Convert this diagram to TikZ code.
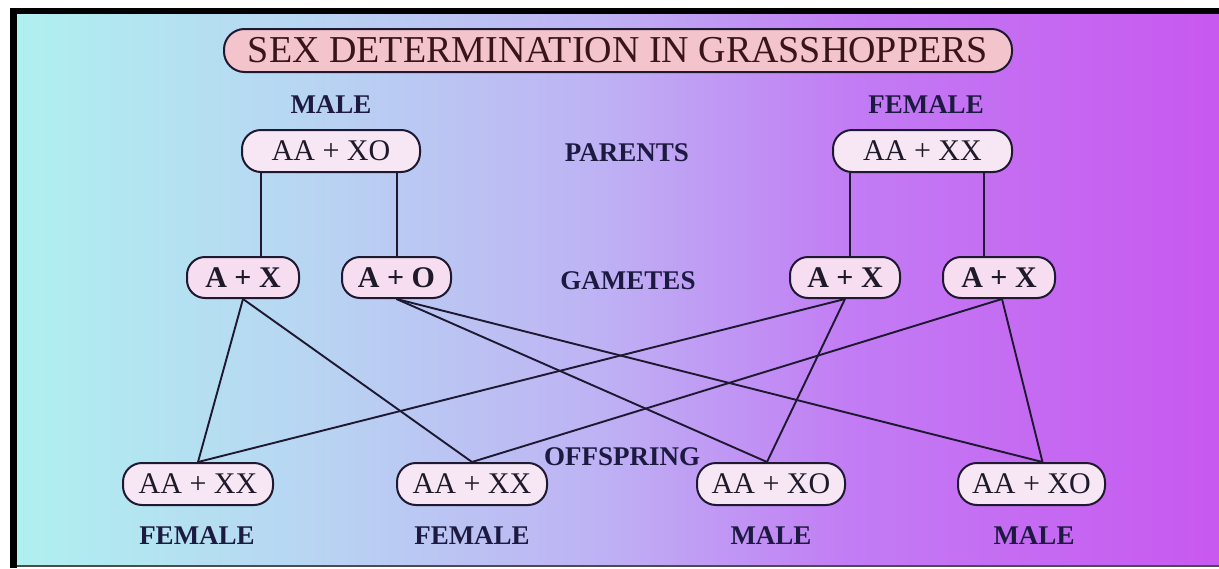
\documentclass[tikz,border=0pt]{standalone}
\usepackage{fontspec}
\setmainfont{Liberation Serif}
\usetikzlibrary{calc}

\definecolor{bgA}{HTML}{AFF0F0}
\definecolor{bgB}{HTML}{B8D6F2}
\definecolor{bgC}{HTML}{BEB2F4}
\definecolor{bgD}{HTML}{C27CF4}
\definecolor{bgE}{HTML}{C858F0}
\definecolor{titlepink}{HTML}{F4C4CC}
\definecolor{titleink}{HTML}{3A1518}
\definecolor{pale}{HTML}{F7E6F3}
\definecolor{palegam}{HTML}{F6DEF0}
\definecolor{edge}{HTML}{1E1830}
\definecolor{ink}{HTML}{1E1A2A}
\definecolor{navy}{HTML}{1C1A40}

% left-to-right wash: cyan -> lavender -> violet
\pgfdeclarehorizontalshading{skyplum}{100bp}{color(0bp)=(bgA); color(25bp)=(bgA); color(36.8bp)=(bgB); color(49.25bp)=(bgC); color(59.65bp)=(bgD); color(75bp)=(bgE); color(100bp)=(bgE)}

\begin{document}
\begin{tikzpicture}[x=1pt,y=-1pt,
  banner/.style={draw=edge, line width=2pt, fill=titlepink, rounded corners=20.5pt,
    minimum width=788pt, minimum height=43pt, inner sep=0pt, text=titleink,
    font=\fontsize{38}{40}\selectfont},
  geno/.style={draw=edge, line width=2pt, fill=pale, rounded corners=19pt,
    minimum height=42pt, inner sep=0pt, text=ink, font=\fontsize{30}{32}\selectfont},
  gam/.style={geno, fill=palegam, minimum height=41pt, rounded corners=18pt,
    font=\bfseries\fontsize{30}{32}\selectfont},
  tag/.style={inner sep=0pt, text=navy, font=\bfseries\fontsize{27}{29}\selectfont},
  link/.style={draw=edge, line width=1.9pt}]

% frame and background
\useasboundingbox (0,0) rectangle (1219,568);
\fill[white] (0,0) rectangle (1219,568);
\shade[shading=skyplum] (17,14) rectangle (1219,565);
\fill[black] (10,8) rectangle (1219,14);
\fill[black] (10,8) rectangle (17,568);
\fill[black!70] (17,565) rectangle (1219,567);

% title
\node[banner] (title) at (618,50.5) {SEX DETERMINATION IN GRASSHOPPERS};

% parents
\node[tag] (lm) at (331,105) {MALE};
\node[tag] (lf) at (926,105) {FEMALE};
\node[geno, minimum width=178pt] (p1) at (331,151) {AA + XO};
\node[geno, minimum width=179pt] (p2) at (922.5,151) {AA + XX};
\node[tag] (lp) at (627,153) {PARENTS};

% gametes
\node[gam, minimum width=112pt] (g1) at (243,277.5) {A + X};
\node[gam, minimum width=109pt] (g2) at (396.5,277.5) {A + O};
\node[gam, minimum width=110pt] (g3) at (845,277.5) {A + X};
\node[gam, minimum width=112pt] (g4) at (999,277.5) {A + X};
\node[tag] (lg) at (628,281) {GAMETES};

% offspring
\node[tag] (lo) at (622,457) {OFFSPRING};
\node[geno, minimum width=150pt] (o1) at (198,484) {AA + XX};
\node[geno, minimum width=150pt] (o2) at (472,484) {AA + XX};
\node[geno, minimum width=148pt] (o3) at (771,484) {AA + XO};
\node[geno, minimum width=147pt] (o4) at (1031.5,484) {AA + XO};
\node[tag] (s1) at (197,536) {FEMALE};
\node[tag] (s2) at (472,536) {FEMALE};
\node[tag] (s3) at (771,536) {MALE};
\node[tag] (s4) at (1034,536) {MALE};

% parent -> gamete drops
\draw[link] ($(g1.north)+(18,0)$) -- ($(g1.north |- p1.south)+(18,0)$);
\draw[link] ($(g2.north)+(0.5,0)$) -- ($(g2.north |- p1.south)+(0.5,0)$);
\draw[link] ($(g3.north)+(5,0)$) -- ($(g3.north |- p2.south)+(5,0)$);
\draw[link] ($(g4.north)+(-15,0)$) -- ($(g4.north |- p2.south)+(-15,0)$);

% fertilisation crosses
\draw[link] (g1.south) -- (o1.north);
\draw[link] (g1.south) -- (o2.north);
\draw[link] (g2.south) -- ($(o3.north)+(-4,0)$);
\draw[link] (g2.south) -- ($(o4.north)+(11,0)$);
\draw[link] (g3.south) -- (o1.north);
\draw[link] (g3.south) -- ($(o3.north)+(-4,0)$);
\draw[link] ($(g4.south)+(3,0)$) -- (o2.north);
\draw[link] ($(g4.south)+(3,0)$) -- ($(o4.north)+(11,0)$);
\end{tikzpicture}
\end{document}
